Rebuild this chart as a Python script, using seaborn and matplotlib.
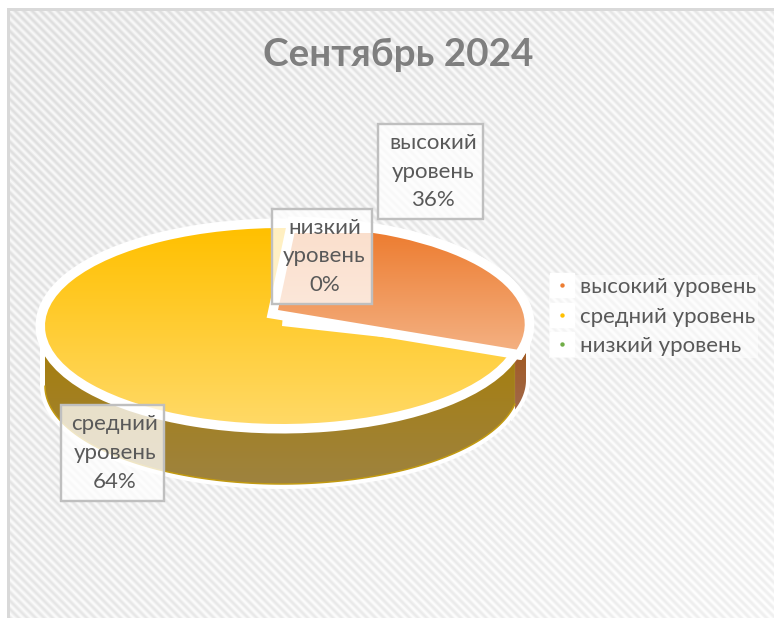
import numpy as np
import seaborn as sns
import matplotlib
matplotlib.use("Agg")
import matplotlib.pyplot as plt
from matplotlib.colors import LinearSegmentedColormap
from matplotlib.legend_handler import HandlerTuple
from matplotlib.lines import Line2D
from matplotlib.path import Path
from matplotlib.patches import PathPatch, Polygon, Rectangle
from matplotlib.transforms import Affine2D

title = "Сентябрь 2024"
categories = ["высокий уровень", "средний уровень", "низкий уровень"]
percents = [36, 64, 0]
# sweep of each slice as it is seen in the picture: the 3D view squeezes the orange one
drawn_shares = [28.6, 71.4, 0]
colors = ["#ED7D31", "#FFC000", "#70AD47"]

sns.set_theme(style="white")
plt.rcParams["font.family"] = ["Lato", "Open Sans", "DejaVu Sans"]

W, H = 774, 618
fig = plt.figure(figsize=(W / 100, H / 100), dpi=100, facecolor="white")
ax = fig.add_axes([0, 0, 1, 1])

# ellipse of the pie top, in pixels
cx, cy, rx, ry = 282, 326, 237, 98
depth = 60
px = 72 / 100  # one pixel in points


# gradient image clipped to a shape
def gradient_fill(path, top_col, bot_col, y0, y1, z):
    cmap = LinearSegmentedColormap.from_list("g", [top_col, bot_col])
    patch = PathPatch(path, transform=ax.transData, fc="none", ec="none")
    ax.add_patch(patch)
    im = ax.imshow(np.linspace(0, 1, 256).reshape(-1, 1), cmap=cmap, aspect="auto",
                   extent=(0, W, y1, y0), zorder=z)
    im.set_clip_path(patch)


# slices come from pie, then get moved on to the tilted ellipse
wedges, _ = ax.pie(drawn_shares, colors=colors, startangle=88, counterclock=False,
                   explode=[0.03, 0, 0])
to_px = Affine2D().scale(rx, -ry).translate(cx, cy)
paths = {}
for w, name in zip(wedges, categories):
    paths[name] = w.get_path().transformed(w.get_patch_transform() + to_px)
    w.set_visible(False)

# the apex of the orange slice sits away from the ellipse centre
v = paths[categories[0]].vertices.copy()
apex = to_px.transform([wedges[0].center])[0]
v[np.hypot(*(v - apex).T) < 1e-6] = (278, 310)
orange_path = Path(v, paths[categories[0]].codes)
yellow_path = paths[categories[1]]

# background, a bit lighter towards the lower right
yy, xx = np.mgrid[0:H, 0:W]
stripes = np.cos(2 * np.pi * ((xx % 17) - (yy % 17)) / 8.5)
fade = (xx + yy) / (W + H)
bg = (0.915 + 0.05 * fade) + (0.05 - 0.02 * fade) * stripes
bg[(xx < 7) | (yy < 8)] = 1.0
bg[((xx >= 7) & (xx < 10) & (yy >= 8)) | ((yy >= 8) & (yy < 11) & (xx >= 7))] = 0.85
ax.imshow(bg, cmap="gray", vmin=0, vmax=1, extent=(0, W, H, 0), aspect="auto", zorder=0)

# side of the pie
t = np.radians(np.linspace(180, 349.4, 120))
low_x = cx + rx * np.cos(t)
low_y = cy - ry * np.sin(t)
band = np.r_[np.c_[low_x, low_y], np.c_[low_x, low_y + depth][::-1]]

t2 = np.radians(np.linspace(342.5, 360, 20))
side_x = cx + 7 + rx * np.cos(t2)
side_y = cy - ry * np.sin(t2)
side = np.r_[np.c_[side_x, side_y], np.c_[side_x, side_y + depth - 6][::-1]]

ax.add_patch(Polygon(band, closed=True, fc="white", ec="white", lw=10 * px, zorder=1))
ax.add_patch(Polygon(side, closed=True, fc="white", ec="white", lw=8 * px, zorder=1))
gradient_fill(Path(np.r_[side, side[:1]]), "#A2591F", "#A0684A", 345, 410, 2)
gradient_fill(Path(np.r_[band, band[:1]]), "#A67E0C", "#9E8340", 345, 486, 3)
ax.plot(low_x, low_y + depth, color="#C29A10", lw=1.5 * px, zorder=3)

# top of the pie with white rims
ax.add_patch(PathPatch(yellow_path, fc="none", ec="white", lw=19 * px, zorder=4))
ax.add_patch(PathPatch(orange_path, fc="none", ec="white", lw=19 * px, zorder=4))
gradient_fill(yellow_path, "#FFC000", "#FFD966", 228, 424, 5)
ax.add_patch(PathPatch(orange_path, fc="none", ec="white", lw=19 * px, zorder=6))
gradient_fill(orange_path, "#ED7D31", "#F4B183", 233, 352, 7)

# data labels
boxes = [(378, 124, 105, 95), (61, 405, 103, 96), (272, 209, 100, 95)]
for name, pct, (bx, by, bw, bh) in zip(categories, percents, boxes):
    ax.add_patch(Rectangle((bx, by), bw, bh, fc=(1, 1, 1, 0.76), ec="#BFBFBF", lw=2.4 * px, zorder=8))
    ax.text(bx + bw / 2 + 2.5, by + bh / 2, name.replace(" ", "\n") + f"\n{pct}%", ha="center", va="center",
            fontsize=16, color="#595959", linespacing=1.55, zorder=9)

ax.text(398, 55, title, ha="center", va="center", fontsize=27.8, fontweight="bold", color="#7F7F7F", zorder=9)

# legend: a small dot on a white square
handles = []
for c in colors:
    box = Line2D([], [], ls="none", marker="s", ms=24 * px, mfc="white", mec="white")
    dot = Line2D([], [], ls="none", marker="o", ms=3 * px, mfc=c, mec=c)
    handles.append((box, dot))
leg = ax.legend(handles, categories, handler_map={tuple: HandlerTuple(ndivide=1, pad=0)},
                loc="upper left", bbox_to_anchor=(549 / W, 1 - 275 / H), bbox_transform=ax.transAxes,
                frameon=True, fancybox=False, framealpha=0.5, facecolor="white", edgecolor="none",
                fontsize=16, labelcolor="#595959", borderpad=0.1, labelspacing=0.42,
                handlelength=1.0, handletextpad=0.3, borderaxespad=0)
leg.set_zorder(9)

ax.set_xlim(0, W)
ax.set_ylim(H, 0)
ax.set_aspect("auto")
ax.axis("off")

fig.savefig("out.png", dpi=100)
